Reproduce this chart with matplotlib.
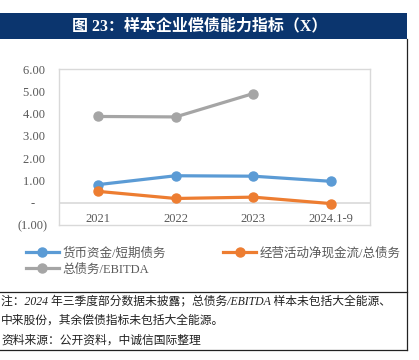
import numpy as np
import matplotlib
matplotlib.use("Agg")
import matplotlib.pyplot as plt
from matplotlib.patches import Rectangle
from matplotlib.lines import Line2D

plt.rcParams['font.family'] = ['Liberation Serif', 'Noto Sans CJK SC', 'DejaVu Sans']

# 数据
years = ['2021', '2022', '2023', '2024.1-9']
cash_short = [0.81, 1.21, 1.19, 0.96]      # 货币资金/短期债务
ocf_debt = [0.51, 0.19, 0.25, -0.04]       # 经营活动净现金流/总债务
debt_ebitda = [3.87, 3.85, 4.90]           # 总债务/EBITDA (2024 未披露)
yticks = [-1, 0, 1, 2, 3, 4, 5, 6]
ylabels = ['(1.00)', '-    ', '1.00 ', '2.00 ', '3.00 ', '4.00 ', '5.00 ', '6.00 ']

W, H = 419, 360
fig = plt.figure(figsize=(W / 100, H / 100), dpi=100)

# 标题栏
fig.add_artist(Rectangle((0, 1 - 39 / H), 407 / W, 26 / H, transform=fig.transFigure,
                         facecolor='#0B356E', edgecolor='none'))
fig.text(200 / W, 1 - 26 / H, '图 23：样本企业偿债能力指标（X）', color='white',
         fontsize=11.5, fontweight='bold', ha='center', va='center')

# 边框线
lk = dict(color='#222222', lw=0.9, transform=fig.transFigure)
fig.add_artist(Line2D([407 / W, 407 / W], [1 - 39 / H, 1 - 350 / H], **lk))
fig.add_artist(Line2D([0, 407 / W], [1 - 292 / H, 1 - 292 / H], **lk))
fig.add_artist(Line2D([0, 407 / W], [1 - 350 / H, 1 - 350 / H], **lk))

ax = fig.add_axes([59 / W, 1 - 225 / H, 311 / W, 156 / H])
x = np.arange(len(years))
l1, = ax.plot(x, cash_short, color='#5B9BD5', lw=2.3, marker='o', ms=6.5, label='货币资金/短期债务')
l2, = ax.plot(x, ocf_debt, color='#ED7D31', lw=2.3, marker='o', ms=6.5, label='经营活动净现金流/总债务')
l3, = ax.plot(x[:3], debt_ebitda, color='#A5A5A5', lw=2.3, marker='o', ms=6.5, label='总债务/EBITDA')
ax.axhline(0, color='#D9D9D9', lw=1.2, zorder=0)

ax.set_xlim(-0.5, 3.5)
ax.set_ylim(-1, 6)
ax.set_yticks(yticks)
ax.set_yticklabels(ylabels)
ax.set_xticks(x)
ax.set_xticklabels(years)
ax.tick_params(axis='y', length=0, pad=8, labelsize=9, labelcolor='#595959')
ax.tick_params(axis='x', length=0, pad=-9, labelsize=9, labelcolor='#595959')
for s in ax.spines.values():
    s.set_color('#D9D9D9')
    s.set_linewidth(1.0)

# 图例：按列填充，所以顺序为 蓝、灰、橙
fig.legend(handles=[l1, l3, l2], loc='upper left', bbox_to_anchor=(26 / W, 1 - 247 / H),
           ncol=2, frameon=False, fontsize=9, labelcolor='#595959', handlelength=2.6,
           handletextpad=0.3, columnspacing=4.6, labelspacing=0.35, borderaxespad=0, borderpad=0)

# 注释
nk = dict(fontsize=8.5, color='#222222', style='italic', ha='left', va='center')
fig.text(1 / W, 1 - 301 / H, '注：2024 年三季度部分数据未披露；总债务/EBITDA 样本未包括大全能源、', **nk)
fig.text(1 / W, 1 - 321 / H, '中来股份，其余偿债指标未包括大全能源。', **nk)
fig.text(1 / W, 1 - 341 / H, '资料来源：公开资料，中诚信国际整理', **nk)

fig.savefig('out.png', dpi=100)
